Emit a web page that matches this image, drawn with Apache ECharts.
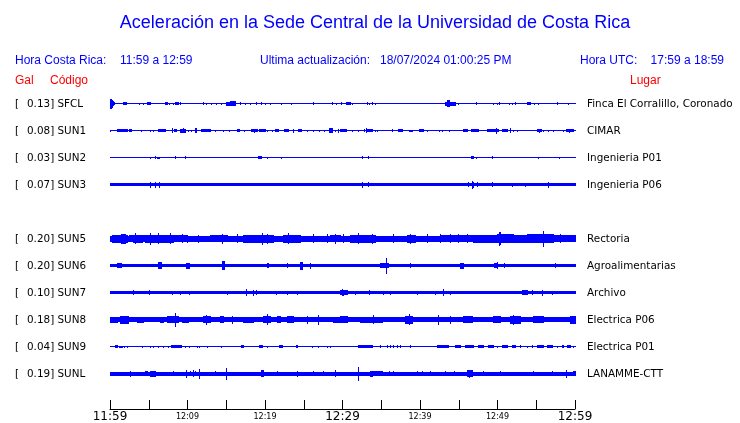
<!DOCTYPE html>
<html><head><meta charset="utf-8">
<script src="https://cdn.jsdelivr.net/npm/echarts@6/dist/echarts.min.js"></script>
<style>html,body{margin:0;padding:0;background:#fff}#c{width:740px;height:423px}</style>
</head><body><div id="c"></div>
<script>
// ---- data ----
const stationCodes = ['SFCL','SUN1','SUN2','SUN3','SUN5','SUN6','SUN7','SUN8','SUN9','SUNL'];
const galValues = ['0.13','0.08','0.03','0.07','0.20','0.20','0.10','0.18','0.04','0.19'];
const places = ['Finca El Corralillo, Coronado','CIMAR','Ingenieria P01','Ingenieria P06','Rectoria','Agroalimentarias','Archivo','Electrica P06','Electrica P01','LANAMME-CTT'];
const rowSlots = [0,1,2,3,5,6,7,8,9,10];
// background (noise) half-amplitude of each trace, same units as bursts
const baseAmp = [0.5,0.5,0.5,1.5,3,1.5,1.5,2.5,0.5,2];
// bursts: [start minute, end minute, half amplitude], minutes after 11:59
const burstsSFCL = [[0,0.13,5],[0.13,0.26,4],[0.26,0.39,2.5],[0.39,0.52,1.5],[1.68,2.06,1.5],[3.74,3.74,1],[4.26,4.26,1],[4.77,5.16,1.5],[7.10,7.35,1.5],[7.61,7.61,1],[8.13,8.13,1],[8.39,8.77,1.5],[9.03,9.03,1.5],[12.0,12.0,1.5],[12.39,12.39,1],[13.03,13.03,1],[13.68,13.68,1],[14.32,14.32,1],[14.97,15.35,2],[15.48,16.13,2.5],[16.77,16.77,1.5],[17.42,17.42,1],[18.06,18.06,1],[18.84,18.84,1.5],[19.48,19.48,1.5],[20.0,20.0,1],[20.65,20.65,1],[22.06,22.06,1],[23.35,23.35,1],[26.19,26.19,1.5],[28.65,28.65,1.5],[29.16,29.16,1],[29.81,29.81,1.5],[30.45,30.97,1.5],[31.23,31.23,1],[33.16,33.16,1.5],[33.42,33.42,1],[33.81,33.81,1.5],[34.19,34.19,1],[43.23,44.52,2],[43.48,43.74,3.5],[44.9,44.9,1],[47.23,47.23,1.5],[49.42,49.42,1],[49.94,49.94,1],[50.19,50.19,1.5],[51.48,51.48,1],[51.87,51.87,1],[52.26,52.26,1.5],[53.81,54.19,1.5],[54.71,54.71,1],[55.23,55.23,1],[57.68,57.68,1.5],[59.10,59.10,1]];
const burstsSUN1 = [[0,0,1],[0.90,2.19,1.5],[2.45,2.71,1.5],[4.0,4.0,1],[5.16,5.16,1],[5.55,5.55,1],[6.19,7.10,1.5],[8.0,8.0,2.5],[8.26,8.52,1.5],[9.03,9.68,2],[9.42,9.42,2.5],[10.06,10.06,1],[10.45,10.45,1],[10.97,11.10,2.5],[11.74,12.90,1.5],[13.55,13.55,1],[14.58,14.58,1],[15.35,15.35,1],[16.39,16.65,1.5],[17.29,17.29,1],[18.19,18.97,1.5],[18.58,18.58,2],[19.23,20.0,1.5],[20.26,20.26,1],[20.90,20.90,1],[21.29,21.68,1.5],[22.45,22.97,1.5],[23.61,23.61,2],[24.26,24.65,1.5],[25.42,25.42,1],[26.19,26.19,1],[26.97,26.97,1],[27.61,27.61,1],[28.26,28.65,2.5],[29.03,29.03,1],[29.42,29.42,2],[29.68,30.45,1.5],[31.23,31.23,1],[32.0,32.0,1],[32.77,32.77,1.5],[33.03,33.03,2.5],[33.16,33.81,1.5],[34.19,34.19,1],[34.45,34.45,1],[36.39,36.39,1.5],[37.16,37.68,1.5],[38.58,38.97,1],[39.87,40.39,1.5],[40.90,40.90,1],[42.45,42.45,1],[42.84,42.84,1],[43.74,43.74,1],[45.55,46.06,1.5],[46.58,47.48,1.5],[48.65,50.06,1.5],[49.81,49.81,3],[50.58,51.23,1.5],[51.61,51.61,2.5],[52.0,52.0,1],[52.52,52.52,1],[55.10,55.61,1.5],[55.35,55.35,2],[55.87,55.87,1],[56.52,56.52,1],[57.16,57.16,1],[58.45,58.45,1],[58.84,59.74,1.5],[59.23,59.23,2]];
const burstsSUN2 = [[5.16,5.16,1],[5.81,5.81,1.5],[6.06,6.32,1],[8.39,8.39,1.5],[9.68,9.68,1.5],[19.10,19.48,1.5],[20.26,20.26,1],[22.06,22.06,1],[32.52,32.52,1.5],[33.29,33.29,1.5],[46.58,46.84,1.5],[47.23,47.23,1],[49.29,49.29,1.5],[55.23,55.23,1],[57.94,57.94,1]];
const burstsSUN3 = [[5.16,5.16,3],[5.81,5.81,3],[6.32,6.32,3],[32.52,32.52,3],[33.29,33.29,2.5],[46.19,46.19,2.5],[46.71,46.71,4],[46.84,46.84,3],[47.35,47.35,2.5],[49.29,49.29,2.5],[51.87,51.87,2],[53.55,53.55,2],[56.52,56.52,3]];
const burstsSUN5 = [[0.26,2.19,4],[1.42,1.94,5],[2.45,2.97,3.5],[2.97,4.13,4],[3.23,3.23,5.5],[4.13,4.52,3.5],[4.52,5.55,4],[5.16,5.16,6],[5.55,7.35,4],[6.19,6.19,5.5],[7.35,8.13,4],[7.74,7.74,5.5],[8.13,9.94,3.5],[9.29,9.29,4.5],[9.94,9.94,4],[11.35,11.35,4],[12.90,15.10,3.5],[14.45,14.45,5],[16.39,16.39,4.5],[17.29,17.29,4],[17.16,21.03,4],[19.61,19.61,6],[20.26,20.26,5],[22.32,24.52,4],[22.97,22.97,5.5],[26.19,26.19,4.5],[28.0,28.0,4.5],[28.39,29.68,3.5],[29.03,29.03,5],[30.06,30.06,4.5],[30.97,34.19,4],[32.0,32.0,5.5],[33.81,33.81,5],[36.52,36.52,4.5],[38.32,39.35,4],[38.71,38.71,5],[40.90,40.90,4.5],[42.58,42.58,4.5],[42.58,46.84,3.5],[43.87,43.87,4.5],[44.90,44.90,4.5],[46.06,46.06,4.5],[46.84,49.94,4],[49.94,52.0,4.5],[50.19,50.19,7],[50.32,50.32,6.5],[52.0,53.81,4],[53.81,57.16,4.5],[55.87,55.87,8],[57.16,60,3.5],[58.06,58.06,4.5]];
const burstsSUN6 = [[0.90,1.42,2.5],[6.19,6.58,3.5],[9.81,10.19,3],[14.45,14.71,4.5],[20.26,20.39,2.5],[22.84,22.84,2.5],[24.52,24.77,4],[25.81,25.81,3],[34.84,35.87,2.5],[35.61,35.61,8],[38.71,38.71,2.5],[45.16,45.55,3],[49.55,49.94,2.5],[49.94,49.94,3.5],[50.84,50.84,2.5],[57.42,57.42,2.5]];
const burstsSUN7 = [[2.97,2.97,2.5],[5.03,5.03,2.5],[8.0,8.0,2],[9.03,9.03,2],[10.19,10.19,2],[15.10,15.10,2],[17.55,17.55,3.5],[18.45,18.45,3],[18.84,18.84,2.5],[21.42,21.42,2],[22.84,22.84,2],[24.13,24.13,2],[29.68,30.58,2.5],[29.94,29.94,3.5],[30.06,30.06,3],[31.61,31.61,2],[33.42,33.42,2.5],[35.23,35.23,2],[36.13,36.13,2],[39.61,39.61,2],[41.94,41.94,2],[42.97,42.97,3.5],[43.87,43.87,2],[53.16,53.81,2.5],[54.45,54.45,2.5],[55.74,55.74,3],[57.03,57.03,2]];
const burstsSUN8 = [[0,0.90,3],[1.29,2.32,4],[3.48,4.26,3],[6.45,6.84,3],[7.35,8.77,3.5],[8.39,8.39,7],[9.29,10.06,3],[12.0,12.90,3.5],[12.39,12.39,5],[14.19,14.58,3.5],[15.74,15.74,4],[17.16,18.45,3],[19.74,20.65,3.5],[20.26,20.26,5.5],[21.55,21.94,3.5],[22.84,23.61,3.5],[25.42,25.42,4],[26.84,26.84,5],[28.77,29.68,3],[29.68,30.58,3.5],[32.26,35.10,3],[33.94,33.94,4.5],[38.06,38.97,4],[38.58,38.58,5.5],[42.32,42.32,5],[43.87,43.87,4],[45.55,46.71,3.5],[49.42,50.32,3.5],[51.61,52.90,4],[52.0,52.0,5],[54.58,55.87,3.5],[59.35,60,4]];
const burstsSUN9 = [[0.65,0.90,1.5],[1.16,1.55,1],[1.81,1.81,1],[2.19,2.19,1],[4.13,4.13,1],[5.16,5.16,1],[5.55,5.55,1],[6.19,6.19,1],[6.84,6.84,1],[7.48,7.48,1],[7.87,9.16,1.5],[9.68,9.68,1],[10.19,10.19,1],[11.23,11.23,1],[11.48,11.48,1],[12.52,12.52,1],[14.32,14.32,1],[16.90,17.16,1.5],[19.23,19.61,1.5],[20.26,20.26,1],[21.81,22.19,1.5],[24.0,24.13,1.5],[26.06,26.06,1],[26.84,26.84,1],[28.0,28.0,1],[28.39,28.39,1],[32.0,33.81,1.5],[34.84,34.84,1.5],[35.74,35.74,1.5],[36.13,36.13,1.5],[36.52,36.52,1.5],[37.03,37.03,1.5],[37.42,37.42,1.5],[38.71,38.71,1.5],[42.19,43.61,1.5],[44.52,45.16,1.5],[45.81,46.84,1.5],[47.48,48.13,1.5],[48.77,49.42,1.5],[49.94,49.94,1],[50.58,51.23,1.5],[51.87,52.26,1.5],[52.90,52.90,1.5],[53.81,53.81,1],[54.45,54.45,1.5],[55.10,55.87,1.5],[56.39,57.03,1.5],[57.68,57.68,1],[58.32,58.45,1.5],[58.97,59.35,1.5],[59.74,59.74,1]];
const burstsSUNL = [[2.58,2.58,3],[4.52,4.77,2.5],[5.16,5.81,3],[8.13,8.13,2.5],[9.81,9.81,4],[10.32,10.32,2.5],[10.71,10.71,3.5],[10.97,10.97,2.5],[11.48,11.48,5],[13.55,13.55,2.5],[14.97,14.97,6],[19.48,19.74,3.5],[21.55,21.55,2.5],[24.13,24.13,3],[26.19,26.19,2.5],[27.48,27.48,2.5],[29.03,29.03,3.5],[32.0,32.0,7],[33.55,33.81,3],[33.94,35.10,2.5],[36.0,36.0,2.5],[36.52,36.52,2.5],[39.61,39.61,2.5],[40.26,40.26,2.5],[41.29,41.29,2.5],[43.23,43.23,2.5],[44.39,44.39,2.5],[46.06,46.71,3.5],[46.32,46.32,4],[48.13,48.13,2.5],[50.32,50.32,2.5],[54.58,54.58,2.5],[57.03,57.03,2.5],[58.84,58.84,4],[59.74,60,2.5]];
const bursts = [burstsSFCL,burstsSUN1,burstsSUN2,burstsSUN3,burstsSUN5,burstsSUN6,burstsSUN7,burstsSUN8,burstsSUN9,burstsSUNL];
const tickLabels = ['11:59','12:09','12:19','12:29','12:39','12:49','12:59'];
const majorLabels = ['11:59','12:29','12:59'];
const titleText = 'Aceleración en la Sede Central de la Universidad de Costa Rica';
const headerLeft = ['Hora Costa Rica:', '11:59 a 12:59'];
const headerMid = ['Ultima actualización:', '18/07/2024 01:00:25 PM'];
const headerRight = ['Hora UTC:', '17:59 a 18:59'];
const colHeaders = ['Gal', 'Código', 'Lugar'];

// ---- chart ----
const ROW = 27;            // y-units per trace row
const Y_MAX = 319;
const TRACE = '#0000ff';
const chart = echarts.init(document.getElementById('c'), null, {renderer: 'canvas'});

function renderItem(params, api) {
  const i = api.value(0);
  const cv = ROW / 2 + ROW * rowSlots[i];
  const cy = api.coord([0, cv])[1];
  const children = [];
  function band(t0, t1, amp) {
    const a = api.coord([t0, cv - amp]);
    const b = api.coord([t1, cv + amp]);
    const xa = Math.round(a[0]);
    const w = Math.max(1, Math.round(b[0]) - xa + 1);
    const top = Math.round(Math.min(a[1], b[1]));
    const bot = Math.round(Math.max(a[1], b[1]));
    children.push({type: 'rect', shape: {x: xa, y: top, width: w, height: Math.max(1, bot - top)}, style: {fill: TRACE}});
  }
  band(0, 60, baseAmp[i]);
  bursts[i].forEach(b => band(b[0], b[1], Math.max(b[2], baseAmp[i])));
  const font = '10.4px "DejaVu Sans"';
  const ty = cy + 0.5;
  children.push({type: 'text', x: 15, y: ty, style: {text: '[', font: font, fill: '#000', verticalAlign: 'middle'}});
  children.push({type: 'text', x: 27, y: ty, style: {text: galValues[i] + '] ' + stationCodes[i], font: font, fill: '#000', verticalAlign: 'middle'}});
  children.push({type: 'text', x: 587, y: ty, style: {text: places[i], font: font, fill: '#000', verticalAlign: 'middle'}});
  return {type: 'group', children: children};
}

const blue = '#0000ff', red = '#ff0000';
const hFont = '12px "Liberation Sans"';
function txt(x, y, text, font, fill, align) {
  return {type: 'text', x: x, y: y, style: {text: text, font: font, fill: fill, align: align || 'left', verticalAlign: 'middle'}};
}

chart.setOption({
  animation: false,
  backgroundColor: '#fff',
  grid: {left: 110, right: 165, top: 90, bottom: 14},
  xAxis: {
    type: 'value', min: 0, max: 60, interval: 5, position: 'bottom',
    axisLine: {show: true, onZero: false, lineStyle: {color: '#000', width: 1}},
    axisTick: {show: true, inside: true, length: 9, lineStyle: {color: '#000'}},
    splitLine: {show: false},
    axisLabel: {
      margin: 2, color: '#000', fontFamily: 'DejaVu Sans',
      formatter: function (v) {
        if (v % 10 !== 0) return '';
        const lab = tickLabels[v / 10];
        return majorLabels.indexOf(lab) >= 0 ? '{b|' + lab + '}' : '{s|' + lab + '}';
      },
      rich: {
        b: {fontSize: 12, lineHeight: 12, fontFamily: 'DejaVu Sans', color: '#000'},
        s: {fontSize: 8, lineHeight: 11, fontFamily: 'DejaVu Sans', color: '#000'}
      }
    }
  },
  yAxis: {type: 'value', min: 0, max: Y_MAX, inverse: true, show: false},
  series: [{
    type: 'custom', clip: false,
    renderItem: renderItem,
    data: stationCodes.map((c, i) => [i, i])
  }],
  graphic: [
    txt(375, 23, titleText, '18px "Liberation Sans"', blue, 'center'),
    txt(15, 61, headerLeft[0], hFont, blue),
    txt(120, 61, headerLeft[1], hFont, blue),
    txt(260, 61, headerMid[0], hFont, blue),
    txt(380, 61, headerMid[1], hFont, blue),
    txt(580, 61, headerRight[0], hFont, blue),
    txt(724, 61, headerRight[1], hFont, blue, 'right'),
    txt(15, 81, colHeaders[0], hFont, red),
    txt(50, 81, colHeaders[1], hFont, red),
    txt(630, 81, colHeaders[2], hFont, red)
  ]
});
</script></body></html>
